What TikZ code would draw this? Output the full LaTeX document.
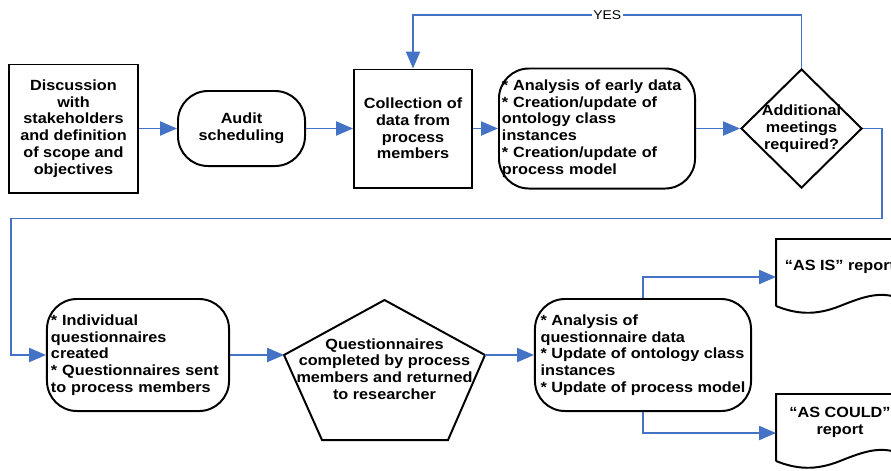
\documentclass[tikz,border=0pt]{standalone}
\usepackage{fontspec}
\setmainfont{Liberation Sans}[FakeStretch=1.1]
\usetikzlibrary{arrows.meta,shapes.geometric,calc}
\definecolor{flowblue}{RGB}{68,114,196}
\tikzset{
    block/.style = {draw, rectangle, line width=1.4pt, align=center,
        inner sep=1pt, font=\bfseries\fontsize{10.5}{11.9}\selectfont},
    rblock/.style = {block, rounded corners=0.75cm},
    decision/.style = {draw, diamond, line width=1.4pt, inner sep=0pt,
        minimum width=3.025cm, minimum height=2.975cm},
    txt/.style = {align=center, inner sep=0pt,
        font=\bfseries\fontsize{10.5}{11.9}\selectfont},
    outline/.style = {draw, line width=1.4pt},
    arrow/.style = {draw, flowblue, line width=1.2pt,
        -{Triangle[length=12pt,width=10pt]}},
    yes/.style = {fill=white, text=black, inner sep=1pt,
        font=\fontsize{9}{10}\selectfont}
}

\begin{document}
\begin{tikzpicture}[x=0.025cm, y=-0.025cm]
    \useasboundingbox (0,0) rectangle (891,470);
    \clip (0,0) rectangle (891,470);
    % top row
    \node[block, minimum width=3.225cm, minimum height=3.2cm] (disc) at (73.5,128.5)
        {Discussion\\with\\stakeholders\\and definition\\of scope and\\objectives};
    \node[rblock, minimum width=3.175cm, minimum height=1.875cm] (audit) at (241.5,128.5)
        {Audit\\scheduling};
    \node[block, minimum width=2.95cm, minimum height=2.95cm] (coll) at (413,128.5)
        {Collection of\\data from\\process\\members};
    \node[rblock, align=left, text width=4.75cm, inner xsep=0.075cm,
        minimum height=3cm] (ana1) at (597,128.5)
        {{*} Analysis of early data\\{*} Creation/update of\\ontology class\\instances\\{*} Creation/update of\\process model};
    \node[decision] (dec) at (801.5,128.5) {};
    \node[txt] (dectext) at (dec) {Additional\\meetings\\required?};
    % bottom row
    \node[rblock, align=left, text width=4.35cm, inner xsep=0.1cm,
        minimum height=2.8cm] (indiv) at (138,355)
        {{*} Individual\\questionnaires\\created\\{*} Questionnaires sent\\to process members};
    \coordinate (pl) at (284,355);
    \coordinate (pr) at (485,355);
    \draw[outline] (pl) -- (384.5,300) -- (pr) -- (448,440) -- (322,440) -- cycle;
    \node[txt] (quest) at (384.5,369)
        {Questionnaires\\completed by process\\members and returned\\to researcher};
    \node[rblock, align=left, minimum width=5.4cm, minimum height=2.8cm] (ana2) at (643,355)
        {{*} Analysis of\\questionnaire data\\{*} Update of ontology class\\instances\\{*} Update of process model};
    % reports
    \draw[outline] (776,306) -- (776,239) -- (904,239) -- (904,300)
        .. controls (882,290) and (865,296) .. (840,306)
        .. controls (815,316) and (796,314) .. (776,306);
    \node[txt] (asis) at (840,267) {“AS IS” report};
    \coordinate (asisin) at (776,277);
    \draw[outline] (776,461) -- (776,394) -- (904,394) -- (904,455)
        .. controls (882,445) and (865,451) .. (840,461)
        .. controls (815,471) and (796,469) .. (776,461);
    \node[txt] (could) at (840,422) {“AS COULD”\\report};
    \coordinate (couldin) at (776,433);
    % connectors
    \draw[arrow] (disc.east) -- (audit.west);
    \draw[arrow] (audit.east) -- (coll.west);
    \draw[arrow] (coll.east) -- (ana1.west);
    \draw[arrow] (ana1.east) -- (dec.west);
    \draw[arrow] (dec.north) -- ++(0,-53) -| node[pos=0.25, yes] {YES} (coll.north);
    \draw[arrow] (dec.east) -- ++(19,0) -- ++(0,90) -| ($(indiv.west)+(-35,0)$) -- (indiv.west);
    \draw[arrow] (indiv.east) -- (pl);
    \draw[arrow] (pr) -- (ana2.west);
    \draw[arrow] (ana2.north) |- (asisin);
    \draw[arrow] (ana2.south) |- (couldin);
\end{tikzpicture}
\end{document}
